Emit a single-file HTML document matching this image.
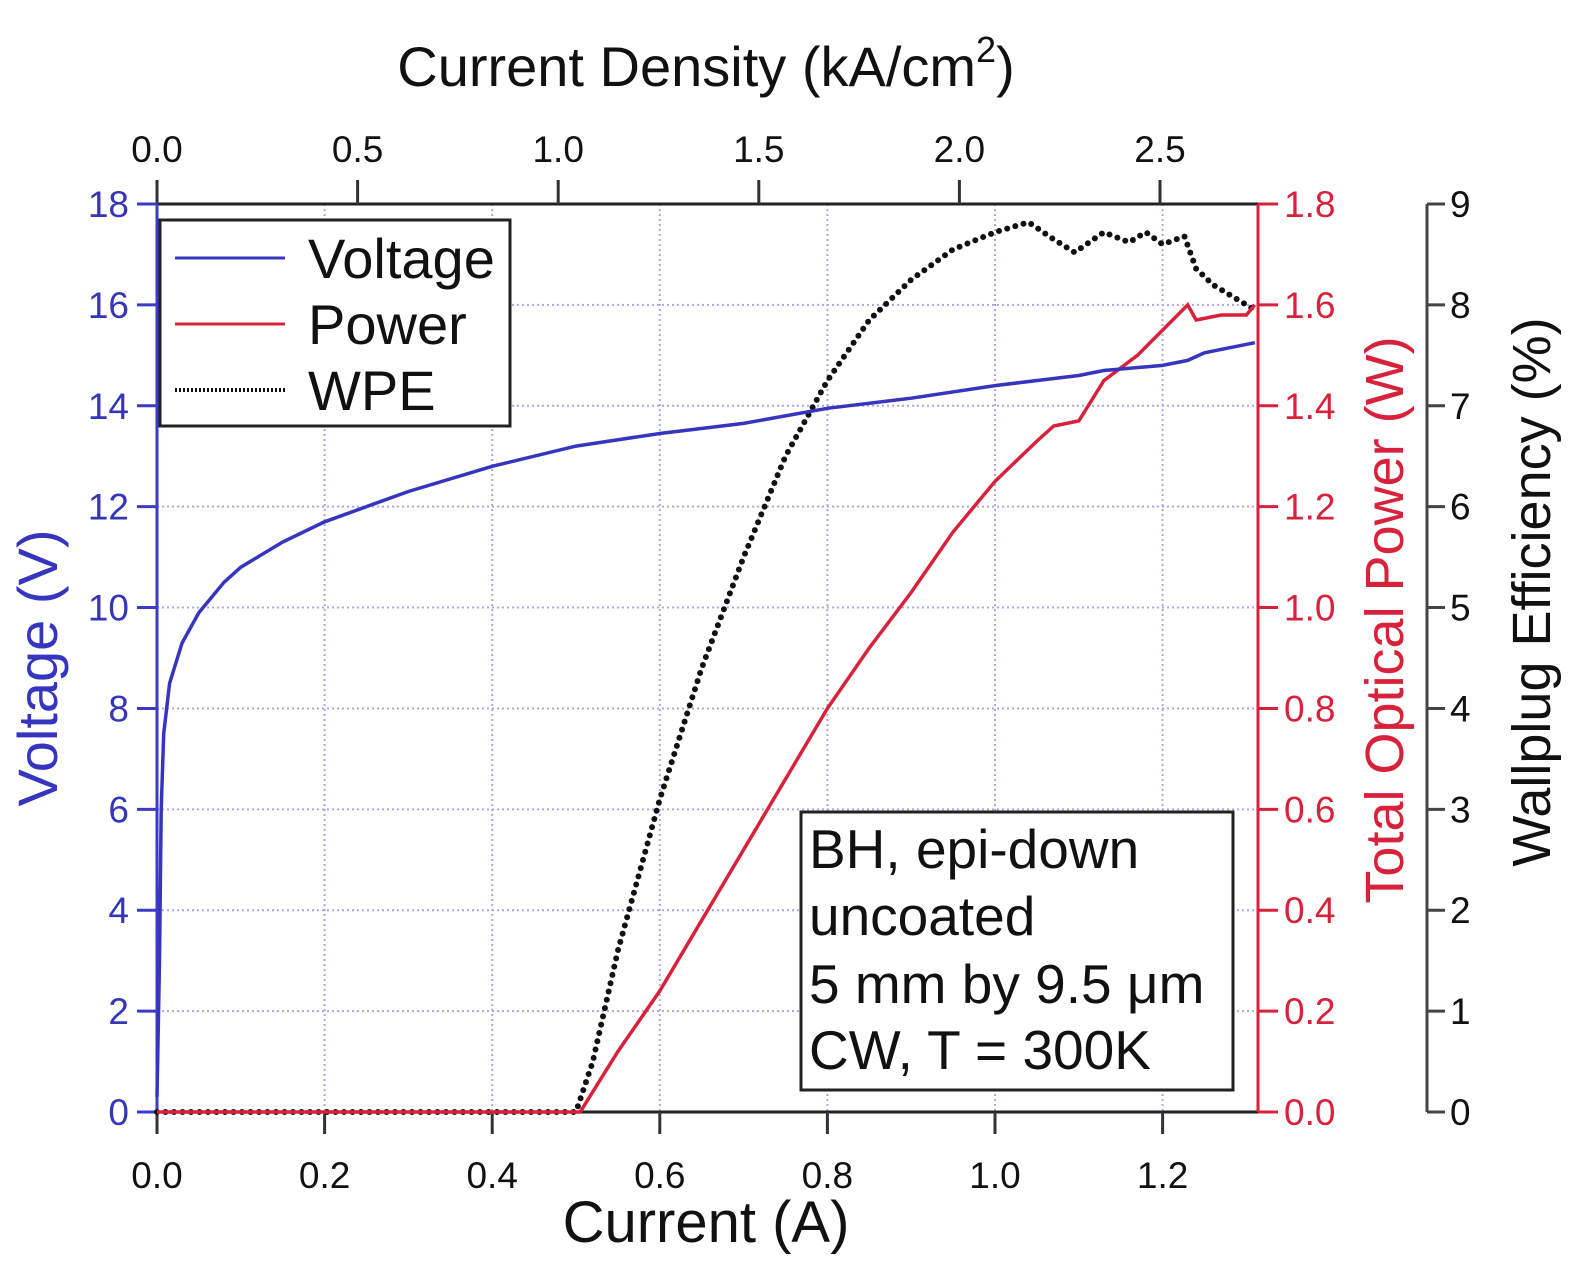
<!DOCTYPE html>
<html><head><meta charset="utf-8"><style>
html,body{margin:0;padding:0;background:#fff}
svg{display:block;font-family:"Liberation Sans",Arial,sans-serif}
</style></head><body>
<div style="position:relative;width:1575px;height:1274px">
<svg id="chart" width="1575" height="1274" viewBox="0 0 1575 1274" style="position:absolute;left:0;top:0"></svg>
<svg width="1575" height="1274" style="position:absolute;left:0;top:0;font-family:'Liberation Sans',Arial,sans-serif">
<text x="706" y="86" font-size="56" text-anchor="middle" fill="#111">Current Density (kA/cm<tspan dy="-24" font-size="36">2</tspan><tspan dy="24">)</tspan></text>
<text x="706" y="1242" font-size="58" text-anchor="middle" fill="#111">Current (A)</text>
<text transform="translate(57,668) rotate(-90)" font-size="56" text-anchor="middle" fill="#3535c0">Voltage (V)</text>
<text transform="translate(1403,620) rotate(-90)" font-size="54" text-anchor="middle" fill="#d8213a">Total Optical Power (W)</text>
<text transform="translate(1550,592) rotate(-90)" font-size="54" text-anchor="middle" fill="#111">Wallplug Efficiency (%)</text>
<g>
<rect x="160" y="220" width="350" height="206" fill="#fff" stroke="#222" stroke-width="3"/>
<line x1="175" y1="258" x2="285" y2="258" stroke="#3535c0" stroke-width="3"/>
<text x="308" y="278" font-size="56" fill="#111">Voltage</text>
<line x1="175" y1="324" x2="285" y2="324" stroke="#d8213a" stroke-width="3"/>
<text x="308" y="344" font-size="56" fill="#111">Power</text>
<line x1="175" y1="390" x2="285" y2="390" stroke="#111" stroke-width="4" stroke-dasharray="2 2"/>
<text x="308" y="410" font-size="56" fill="#111">WPE</text>
</g>
<g>
<rect x="801" y="812" width="432" height="278" fill="#fff" stroke="#222" stroke-width="3"/>
<text x="809" y="868" font-size="55" fill="#111">BH, epi-down</text>
<text x="809" y="935" font-size="55" fill="#111">uncoated</text>
<text x="809" y="1003" font-size="55" fill="#111">5 mm by 9.5 μm</text>
<text x="809" y="1069" font-size="55" fill="#111">CW, T = 300K</text>
</g>
</svg></div>
<script>
const currentA=[0,0.003,0.005,0.008,0.015,0.03,0.05,0.08,0.1,0.15,0.2,0.3,0.4,0.5,0.6,0.7,0.8,0.9,1.0,1.1,1.13,1.2,1.23,1.25,1.31];
const voltageV=[0.3,3,6,7.5,8.5,9.3,9.9,10.5,10.8,11.3,11.7,12.3,12.8,13.2,13.45,13.65,13.95,14.15,14.4,14.6,14.7,14.8,14.9,15.05,15.25];
const powerX=[0,0.505,0.55,0.6,0.65,0.7,0.75,0.8,0.85,0.9,0.95,1.0,1.05,1.07,1.1,1.13,1.17,1.2,1.23,1.24,1.27,1.3,1.31];
const powerW=[0,0,0.12,0.24,0.38,0.52,0.66,0.8,0.92,1.03,1.15,1.25,1.33,1.36,1.37,1.45,1.5,1.55,1.6,1.57,1.58,1.58,1.6];
const wpeX=[0,0.5,0.52,0.55,0.6,0.65,0.7,0.75,0.8,0.85,0.9,0.95,1.0,1.04,1.07,1.095,1.13,1.16,1.18,1.2,1.226,1.24,1.26,1.29,1.31];
const wpePct=[0,0,0.5,1.6,3.1,4.4,5.5,6.5,7.25,7.85,8.25,8.55,8.72,8.82,8.65,8.52,8.72,8.62,8.72,8.6,8.68,8.36,8.2,8.05,7.95];
const xTicks=["0.0","0.2","0.4","0.6","0.8","1.0","1.2"];
const topTicks=["0.0","0.5","1.0","1.5","2.0","2.5"];
const vTicks=["0","2","4","6","8","10","12","14","16","18"];
const pTicks=["0.0","0.2","0.4","0.6","0.8","1.0","1.2","1.4","1.6","1.8"];
const eTicks=["0","1","2","3","4","5","6","7","8","9"];

const svg=document.getElementById('chart');
const NS='http://www.w3.org/2000/svg';
const L=157,R=1258,T=204,B=1112;
const xs=a=>L+a*838;
const xj=j=>L+j*401.2;
const yv=v=>B-v*(B-T)/18;
const yp=p=>B-p*(B-T)/1.8;
const ye=e=>B-e*(B-T)/9;
function el(tag,attrs,txt){const e=document.createElementNS(NS,tag);for(const k in attrs)e.setAttribute(k,attrs[k]);if(txt!==undefined)e.textContent=txt;svg.appendChild(e);return e;}

xTicks.forEach(t=>{const g=el('line',{x1:xs(+t),x2:xs(+t),y1:T,y2:B,stroke:'#a8a8e8','stroke-width':2,'stroke-dasharray':'2 3'});

});
vTicks.forEach(t=>{const g=el('line',{x1:L,x2:R,y1:yv(+t),y2:yv(+t),stroke:'#a8a8e8','stroke-width':2,'stroke-dasharray':'2 3'});

});

const fr=el('line',{x1:L,x2:R,y1:T,y2:T,stroke:'#222','stroke-width':3});


const bax=el('line',{x1:L,x2:R,y1:B,y2:B,stroke:'#222','stroke-width':3});


const lax=el('line',{x1:L,x2:L,y1:T,y2:B,stroke:'#3b3bc8','stroke-width':3});


const rax=el('line',{x1:R,x2:R,y1:T,y2:B,stroke:'#d8213a','stroke-width':3});


const eax=el('line',{x1:1427,x2:1427,y1:T,y2:B,stroke:'#444','stroke-width':3});



xTicks.forEach(t=>{el('line',{x1:xs(+t),x2:xs(+t),y1:B,y2:B+22,stroke:'#333','stroke-width':3});
const tx=el('text',{x:xs(+t),y:B+76,'font-size':37,'text-anchor':'middle',fill:'#111'},t);

});
topTicks.forEach(t=>{el('line',{x1:xj(+t),x2:xj(+t),y1:T,y2:T-24,stroke:'#333','stroke-width':3});
const tx=el('text',{x:xj(+t),y:T-42,'font-size':37,'text-anchor':'middle',fill:'#111'},t);

});
vTicks.forEach(t=>{el('line',{x1:L-20,x2:L,y1:yv(+t),y2:yv(+t),stroke:'#3b3bc8','stroke-width':3});
const tx=el('text',{x:L-28,y:yv(+t)+13,'font-size':37,'text-anchor':'end',fill:'#3535b8'},t);

});
pTicks.forEach(t=>{el('line',{x1:R,x2:R+20,y1:yp(+t),y2:yp(+t),stroke:'#d8213a','stroke-width':3});
const tx=el('text',{x:R+26,y:yp(+t)+13,'font-size':37,fill:'#d8213a'},t);

});
eTicks.forEach(t=>{el('line',{x1:1427,x2:1445,y1:ye(+t),y2:ye(+t),stroke:'#444','stroke-width':3});
const tx=el('text',{x:1450,y:ye(+t)+13,'font-size':37,fill:'#111'},t);

});

function pts(xa,ya,fx,fy){return xa.map((x,i)=>fx(x).toFixed(1)+','+fy(ya[i]).toFixed(1)).join(' ');}
const wl=el('polyline',{points:pts(wpeX,wpePct,xs,ye),fill:'none',stroke:'#111','stroke-width':6,'stroke-linecap':'round','stroke-dasharray':'0 8.5'});


const pl=el('polyline',{points:pts(powerX,powerW,xs,yp),fill:'none',stroke:'#d8213a','stroke-width':3.5});


const vl=el('polyline',{points:pts(currentA,voltageV,xs,yv),fill:'none',stroke:'#3535c0','stroke-width':3.5});


</script>
</body></html>
